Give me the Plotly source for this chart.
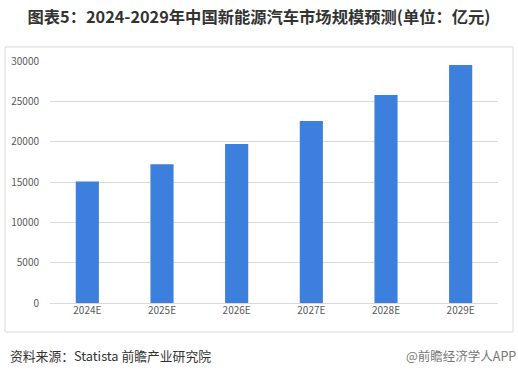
import plotly.graph_objects as go

categories = ["2024E", "2025E", "2026E", "2027E", "2028E", "2029E"]
values = [15050, 17200, 19700, 22550, 25800, 29500]
y_ticks = [0, 5000, 10000, 15000, 20000, 25000, 30000]
y_tick_labels = ["0", "5000", "10000", "15000", "20000", "25000", "30000"]

fig = go.Figure()
fig.add_trace(go.Bar(
    x=categories, y=values,
    marker=dict(color="#3D7FDC", line=dict(width=0)),
))

fig.update_layout(
    width=518, height=376,
    margin=dict(l=50, r=20, t=61, b=73),
    paper_bgcolor="white", plot_bgcolor="white",
    bargap=0.69,
    showlegend=False,
    font=dict(family="Noto Sans CJK SC, sans-serif", color="#595959", size=10),
    title=dict(
        text="<b>图表5：2024-2029年中国新能源汽车市场规模预测(单位：亿元)</b>",
        x=0.5, xanchor="center", y=0.955, yanchor="middle",
        font=dict(size=16.3, color="#333333", family="Noto Sans CJK SC, sans-serif"),
    ),
    xaxis=dict(
        showgrid=False, showline=False, ticks="",
        tickfont=dict(size=10, color="#595959"),
    ),
    yaxis=dict(
        range=[0, 30000], tickvals=y_ticks, ticktext=y_tick_labels,
        showgrid=True, gridcolor="#D9D9D9", gridwidth=1,
        zeroline=True, zerolinecolor="#D9D9D9", zerolinewidth=1,
        showline=False, ticks="", ticklabelstandoff=10,
        tickfont=dict(size=10, color="#595959"),
    ),
    shapes=[dict(
        type="rect", xref="paper", yref="paper",
        x0=-0.1004, x1=1.0335, y0=-0.1198, y1=1.058,
        line=dict(color="#D9D9D9", width=1), fillcolor="rgba(0,0,0,0)",
        layer="above",
    )],
    annotations=[
        dict(text="资料来源：Statista 前瞻产业研究院", xref="paper", yref="paper",
             x=(8 - 50) / 448, y=(303 - 355) / 242, xanchor="left", yanchor="middle",
             showarrow=False, font=dict(size=12.8, color="#333333")),
        dict(text="@前瞻经济学人APP", xref="paper", yref="paper",
             x=(518 - 50) / 448, y=(303 - 355) / 242, xanchor="right", yanchor="middle",
             showarrow=False, font=dict(size=12.5, color="#777777")),
    ],
)

fig.write_html("out.html", config={"displayModeBar": False},
               post_script="document.body.style.margin='0';document.body.style.overflow='hidden';")
